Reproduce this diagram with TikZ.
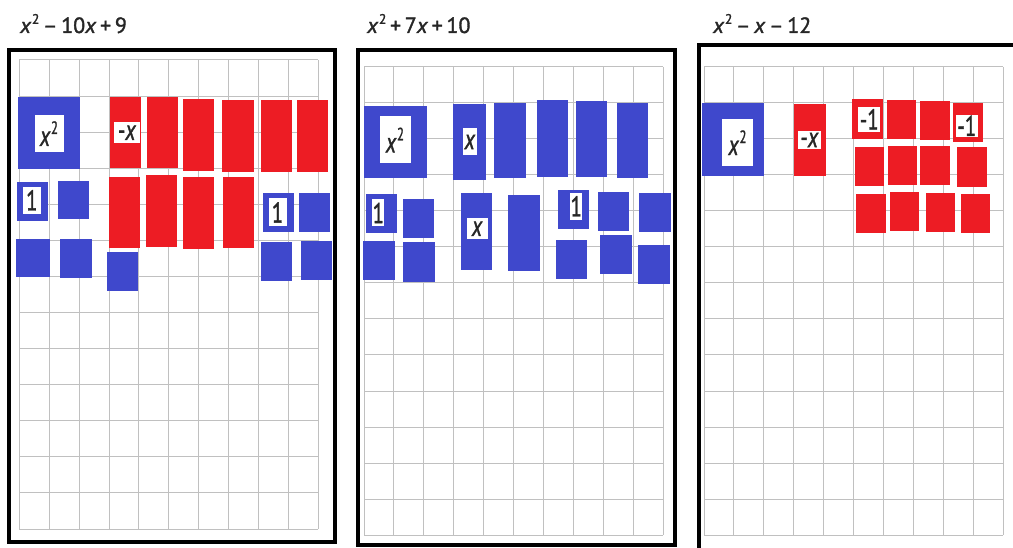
\documentclass[tikz,border=0pt]{standalone}
\usepackage{fontspec}
\setmainfont{PT Sans}
\newfontfamily\titlefont[FakeBold=1.5]{PT Sans}
\definecolor{tileblue}{RGB}{63,72,204}
\definecolor{tilered}{RGB}{237,28,36}
\definecolor{gridgray}{RGB}{192,192,192}
\newcommand{\gridpanel}[4]{% x0 y0 x1 y1
  \foreach \i in {0,...,10}{\draw[gridline] ({#1+\i*(#3-#1)/10},#2) -- ({#1+\i*(#3-#1)/10},#4);}
  \foreach \j in {0,...,13}{\draw[gridline] (#1,{#2+\j*(#4-#2)/13}) -- (#3,{#2+\j*(#4-#2)/13});}}
\newcommand{\btile}[4]{\fill[tileblue] (#1,#2) rectangle (#3,#4);}
\newcommand{\rtile}[4]{\fill[tilered] (#1,#2) rectangle (#3,#4);}
\newcommand{\lbltxt}[1]{\scalebox{0.8}[1.1]{#1}}
\newcommand{\sq}{\textit{x}\kern0.5pt\raisebox{0.42em}{\scalebox{0.62}{2}}}
\begin{document}
\begin{tikzpicture}[x=1pt,y=-1pt,
  gridline/.style={draw=gridgray,line width=1pt},
  frame/.style={draw=black,line width=3.5pt},
  title/.style={anchor=base west,inner sep=0pt,font=\titlefont\fontsize{22}{22}\selectfont,text=black!85},
  lbl/.style={fill=white,inner sep=0pt,font=\titlefont\fontsize{26}{26}\selectfont,text=black!85}]
\useasboundingbox (0,0) rectangle (1013,548);
\clip (0,0) rectangle (1013,548);
\fill[white] (0,0) rectangle (1013,548);
% titles
\node[title] (t1) at (20,33) {\sq\,–\,10\textit{x}\,+\,9};
\node[title] (t2) at (367,33) {\sq\,+\,7\textit{x}\,+\,10};
\node[title] (t3) at (713,33) {\sq\,–\,\textit{x}\,–\,12};
% grids
\gridpanel{19.3}{60}{318.3}{529}
\gridpanel{364}{67}{663}{535}
\gridpanel{704}{67}{1003}{535}
% frames
\draw[frame] (9,50) rectangle (335,542);
\draw[frame] (358,50) rectangle (675,545);
\draw[frame] (699,560) -- (699,45) -- (1030,45);
% ---------- panel 1 ----------
\btile{17.7}{96.7}{80}{169}
\rtile{109.7}{96.7}{141}{168.3}
\rtile{146.7}{96.7}{178.3}{168.3}
\rtile{182.7}{99}{214.3}{171}
\rtile{221.7}{100}{254.3}{172.3}
\rtile{260.7}{100}{292.3}{172.3}
\rtile{296.7}{100}{328.3}{172.3}
\rtile{109}{176.7}{140}{248.3}
\rtile{145.7}{175}{177.3}{247.3}
\rtile{182.7}{177.3}{214.3}{249.3}
\rtile{222.7}{176.7}{254.3}{248.3}
\btile{16.7}{181.7}{48.3}{220.7}
\btile{58.3}{180.7}{89.3}{219}
\btile{16}{239}{50}{277.3}
\btile{60}{239}{91.7}{278.3}
\btile{106.7}{252.3}{138.3}{291}
\btile{263.3}{192.7}{294.3}{231.7}
\btile{299}{192.7}{330}{231.7}
\btile{261}{242.3}{292.3}{281}
\btile{301}{240.7}{332.3}{280}
\node[lbl,minimum width=29pt,minimum height=37pt] (a1) at (49,133.6) {\lbltxt{\sq}};
\node[lbl,minimum width=26pt,minimum height=21pt] (a2) at (127,132.8) {\lbltxt{-\textit{x}}};
\node[lbl,minimum width=18pt,minimum height=27pt] (a3) at (31.8,200.3) {\lbltxt{1}};
\node[lbl,minimum width=18pt,minimum height=28pt] (a4) at (277.5,212.5) {\lbltxt{1}};
% ---------- panel 2 ----------
\btile{364}{105.7}{426.7}{178.3}
\btile{453.3}{104.3}{485.7}{180}
\btile{494.3}{102.7}{525.7}{178.3}
\btile{536.7}{100}{568}{177.3}
\btile{575.7}{101}{607}{177.3}
\btile{617}{102.7}{648.3}{178.3}
\btile{460.7}{193.3}{492.3}{270}
\btile{508.3}{195}{540}{271}
\btile{365.7}{194}{396.7}{232.7}
\btile{402.7}{199.3}{434}{238}
\btile{363.3}{240.7}{395}{280}
\btile{403.3}{242.3}{435}{281.7}
\btile{558.3}{190}{589.3}{229.3}
\btile{598.3}{191.7}{629.3}{230.7}
\btile{639.3}{192.7}{670.7}{231.7}
\btile{556}{240}{587.3}{279}
\btile{600}{235}{631.7}{274}
\btile{638}{245}{670}{284}
\node[lbl,minimum width=31pt,minimum height=47pt] (b1) at (395,140) {\lbltxt{\sq}};
\node[lbl,minimum width=14.6pt,minimum height=27pt] (b2) at (470,142) {\lbltxt{\textit{x}}};
\node[lbl,minimum width=20.7pt,minimum height=20.7pt] (b3) at (477.3,228.7) {\lbltxt{\textit{x}}};
\node[lbl,minimum width=12pt,minimum height=27pt] (b4) at (378.3,213) {\lbltxt{1}};
\node[lbl,minimum width=12.3pt,minimum height=27pt] (b5) at (576.2,206.3) {\lbltxt{1}};
% ---------- panel 3 ----------
\btile{702.3}{103.3}{764.3}{176}
\rtile{794.3}{104.3}{826}{176}
\rtile{852.3}{99.3}{883.3}{139}
\rtile{886.7}{100}{916}{139}
\rtile{920}{101}{950}{140}
\rtile{953.3}{102.7}{982.7}{141.7}
\rtile{855}{146.7}{884.3}{186}
\rtile{887.7}{145.7}{917}{185}
\rtile{920}{145.7}{950}{185}
\rtile{957.3}{147.3}{986.7}{186.7}
\rtile{856}{194.3}{885.7}{233.3}
\rtile{890}{191.7}{919.3}{230.7}
\rtile{925.7}{192.7}{955}{232.3}
\rtile{960.7}{194.3}{990}{233.3}
\node[lbl,minimum width=31.6pt,minimum height=46.7pt] (c1) at (737.5,142.7) {\lbltxt{\sq}};
\node[lbl,minimum width=22.4pt,minimum height=18pt] (c2) at (809.5,140) {\lbltxt{-\textit{x}}};
\node[lbl,minimum width=21.7pt,minimum height=25pt] (c3) at (869.2,119.2) {\lbltxt{-1}};
\node[lbl,minimum width=21.7pt,minimum height=21.7pt] (c4) at (966.8,125.8) {\lbltxt{-1}};
\end{tikzpicture}
\end{document}
